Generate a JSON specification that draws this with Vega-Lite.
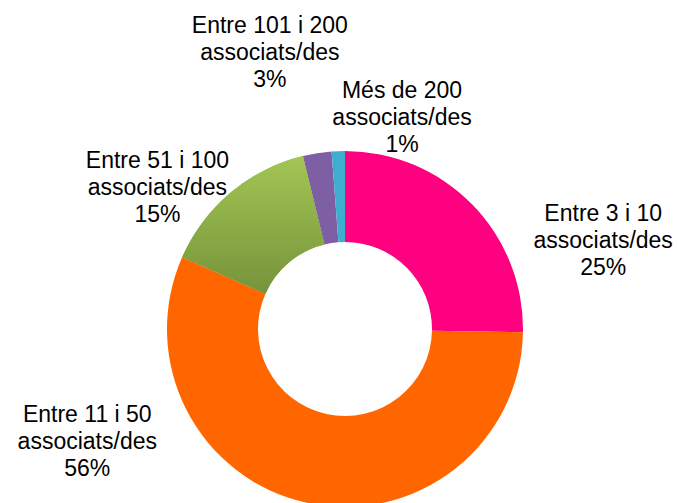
{
  "$schema": "https://vega.github.io/schema/vega-lite/v6.json",
  "width": 678,
  "height": 502,
  "autosize": {"type": "none"},
  "padding": {"left": 6, "top": 78, "right": 0, "bottom": 0},
  "background": "white",
  "data": {
    "values": [
      {"cat": "Entre 3 i 10 associats/des", "ord": 1, "value": 25.3, "label": "Entre 3 i 10\nassociats/des\n25%"},
      {"cat": "Entre 11 i 50 associats/des", "ord": 2, "value": 56.3, "label": "Entre 11 i 50\nassociats/des\n56%"},
      {"cat": "Entre 51 i 100 associats/des", "ord": 3, "value": 14.6, "label": "Entre 51 i 100\nassociats/des\n15%"},
      {"cat": "Entre 101 i 200 associats/des", "ord": 4, "value": 2.6, "label": "Entre 101 i 200\nassociats/des\n3%"},
      {"cat": "Més de 200 associats/des", "ord": 5, "value": 1.2, "label": "Més de 200\nassociats/des\n1%"}
    ]
  },
  "transform": [
    {"stack": "value", "groupby": [], "sort": [{"field": "ord"}], "as": ["v0", "v1"]},
    {"calculate": "(datum.v0 + datum.v1) / 2", "as": "mid"}
  ],
  "layer": [
    {
      "mark": {"type": "arc", "outerRadius": 178, "innerRadius": 87},
      "encoding": {
        "theta": {"field": "v0", "type": "quantitative", "scale": {"domain": [0, 100]}},
        "theta2": {"field": "v1"},
        "color": {
          "field": "cat", "type": "nominal", "legend": null,
          "scale": {
            "domain": ["Entre 3 i 10 associats/des", "Entre 11 i 50 associats/des", "Entre 51 i 100 associats/des", "Entre 101 i 200 associats/des", "Més de 200 associats/des"],
            "range": ["#FF0080", "#FF6600", "#8DAE47", "#7F5FA3", "#3EADCF"]
          }
        }
      }
    },
    {
      "transform": [{"filter": "datum.ord == 3"}],
      "mark": {"type": "arc", "outerRadius": 178, "innerRadius": 87,
        "fill": {"gradient": "linear", "x1": 0, "y1": 0, "x2": 0, "y2": 1,
          "stops": [{"offset": 0, "color": "#A3C655"}, {"offset": 1, "color": "#76933A"}]}},
      "encoding": {
        "theta": {"field": "v0", "type": "quantitative"},
        "theta2": {"field": "v1"}
      }
    },
    {
      "transform": [{"filter": "datum.ord == 1"}],
      "mark": {"type": "text", "radius": 273, "thetaOffset": 0.445, "dy": -26, "fontSize": 23, "font": "Liberation Sans", "lineBreak": "\n", "lineHeight": 27, "align": "center", "baseline": "middle", "color": "#000000"},
      "encoding": {"theta": {"field": "mid", "type": "quantitative"}, "text": {"field": "label"}}
    },
    {
      "transform": [{"filter": "datum.ord == 2"}],
      "mark": {"type": "text", "radius": 281, "thetaOffset": 0.944, "dy": -26, "fontSize": 23, "font": "Liberation Sans", "lineBreak": "\n", "lineHeight": 27, "align": "center", "baseline": "middle", "color": "#000000"},
      "encoding": {"theta": {"field": "mid", "type": "quantitative"}, "text": {"field": "label"}}
    },
    {
      "transform": [{"filter": "datum.ord == 3"}],
      "mark": {"type": "text", "radius": 235, "thetaOffset": -0.227, "dy": -26, "fontSize": 23, "font": "Liberation Sans", "lineBreak": "\n", "lineHeight": 27, "align": "center", "baseline": "middle", "color": "#000000"},
      "encoding": {"theta": {"field": "mid", "type": "quantitative"}, "text": {"field": "label"}}
    },
    {
      "transform": [{"filter": "datum.ord == 4"}],
      "mark": {"type": "text", "radius": 287, "thetaOffset": -0.108, "dy": -26, "fontSize": 23, "font": "Liberation Sans", "lineBreak": "\n", "lineHeight": 27, "align": "center", "baseline": "middle", "color": "#000000"},
      "encoding": {"theta": {"field": "mid", "type": "quantitative"}, "text": {"field": "label"}}
    },
    {
      "transform": [{"filter": "datum.ord == 5"}],
      "mark": {"type": "text", "radius": 220, "thetaOffset": 0.300, "dy": -26, "fontSize": 23, "font": "Liberation Sans", "lineBreak": "\n", "lineHeight": 27, "align": "center", "baseline": "middle", "color": "#000000"},
      "encoding": {"theta": {"field": "mid", "type": "quantitative"}, "text": {"field": "label"}}
    }
  ],
  "config": {"view": {"stroke": null}}
}
